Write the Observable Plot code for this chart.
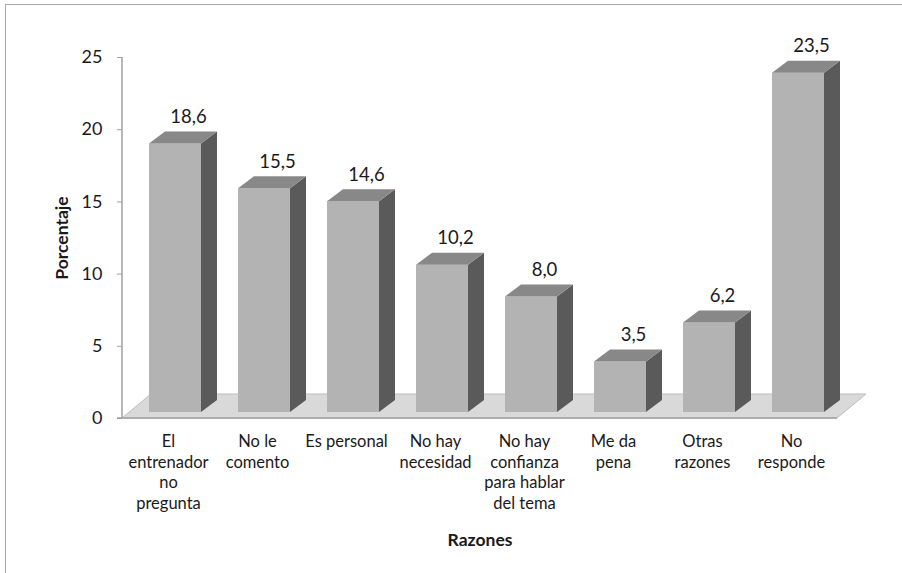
<!DOCTYPE html>
<html><head><meta charset="utf-8">
<script src="https://cdn.jsdelivr.net/npm/d3@7"></script>
<script src="https://cdn.jsdelivr.net/npm/@observablehq/plot@0.6"></script>
<style>
body{margin:0;background:#fff;}
#wrap{position:relative;width:902px;height:573px;overflow:hidden;background:#fff;}
#chart{position:absolute;left:0;top:0;}
#border{position:absolute;left:5px;top:4px;width:1000px;height:1000px;border:1.5px solid #a8a8a8;pointer-events:none;}
</style></head><body>
<div id="wrap"><div id="chart"></div><div id="border"></div></div>
<script>
// Data
const razones = ["El entrenador no pregunta","No le comento","Es personal","No hay necesidad","No hay confianza para hablar del tema","Me da pena","Otras razones","No responde"];
const etiquetas = ["El\nentrenador\nno\npregunta","No le\ncomento","Es personal","No hay\nnecesidad","No hay\nconfianza\npara hablar\ndel tema","Me da\npena","Otras\nrazones","No\nresponde"];
const porcentajes = [18.6, 15.5, 14.6, 10.2, 8.0, 3.5, 6.2, 23.5];
const yTicks = [0, 5, 10, 15, 20, 25];
const yLabel = "Porcentaje";
const xLabel = "Razones";

const data = razones.map((r, i) => ({razon: r, etiqueta: etiquetas[i], valor: porcentajes[i]}));
const fmt = v => d3.format(".1f")(v).replace(".", ",");

// 3D geometry (pixels)
const FLOOR_DX = 29, FLOOR_DY = -24;   // floor depth
const BAR_DX = 7, BAR_DY = -6;         // front face offset into the depth
const SIDE_DX = 16, SIDE_DY = -12;     // bar depth

function floorMark(index, scales, values, dims) {
  const g = d3.create("svg:g");
  const x0 = dims.marginLeft, x1 = dims.width - dims.marginRight;
  const y0 = scales.y(0);
  g.append("polygon")
    .attr("points", [[x0, y0], [x1, y0], [x1 + FLOOR_DX, y0 + FLOOR_DY], [x0 + FLOOR_DX, y0 + FLOOR_DY]].map(p => p.join(",")).join(" "))
    .attr("fill", "#d9d9d9").attr("stroke", "#bdbdbd").attr("stroke-width", 1);
  g.append("line").attr("x1", x0 - 5).attr("x2", x1).attr("y1", y0).attr("y2", y0)
    .attr("stroke", "#a0a0a0").attr("stroke-width", 1.5);
  g.append("line").attr("x1", x0).attr("x2", x0).attr("y1", scales.y(25)).attr("y2", y0)
    .attr("stroke", "#a0a0a0").attr("stroke-width", 1.5);
  return g.node();
}

function barSides(index, scales, values, dims) {
  const g = d3.create("svg:g");
  const bw = scales.x.bandwidth();
  for (const d of data) {
    const xl = scales.x(d.razon) + BAR_DX, xr = xl + bw;
    const yt = scales.y(d.valor) + BAR_DY, yb = scales.y(0) + BAR_DY;
    const pts = a => a.map(p => p.join(",")).join(" ");
    g.append("polygon").attr("points", pts([[xr, yt], [xr + SIDE_DX, yt + SIDE_DY], [xr + SIDE_DX, yb + SIDE_DY], [xr, yb]]))
      .attr("fill", "#5a5a5a");
    g.append("polygon").attr("points", pts([[xl, yt], [xr, yt], [xr + SIDE_DX, yt + SIDE_DY], [xl + SIDE_DX, yt + SIDE_DY]]))
      .attr("fill", "#888888");
  }
  return g.node();
}

const chart = Plot.plot({
  width: 902,
  height: 573,
  marginLeft: 122,
  marginRight: 65,
  marginTop: 57,
  marginBottom: 155,
  style: {fontFamily: "Lato, sans-serif", background: "transparent", color: "#1a1a1a"},
  x: {domain: razones, paddingInner: 0.42, paddingOuter: 0.21, axis: null},
  y: {domain: [0, 25], axis: null},
  marks: [
    floorMark,
    Plot.barY(data, {x: "razon", y: "valor", fill: "#b3b3b3", dx: BAR_DX, dy: BAR_DY}),
    barSides,
    Plot.axisY({ticks: yTicks, tickSize: 5, tickPadding: 15, fontSize: 18, stroke: "#a0a0a0", label: null}),
    Plot.text(data, {x: "razon", y: "valor", text: d => fmt(d.valor), dx: 20, dy: -27, lineAnchor: "bottom", fontSize: 18.5, fill: "#1a1a1a"}),
    Plot.text(data, {x: "razon", y: () => 0, text: "etiqueta", lineAnchor: "top", dy: 14, lineHeight: 1.25, fontSize: 16.5, fill: "#1a1a1a"}),
    Plot.text([yLabel], {frameAnchor: "left", dx: -60, rotate: -90, textAnchor: "middle", text: d => d, fontSize: 17.5, fontWeight: "bold", fill: "#1a1a1a"}),
    Plot.text([xLabel], {frameAnchor: "bottom", dy: 127, text: d => d, fontSize: 17.5, fontWeight: "bold", fill: "#1a1a1a"})
  ]
});
document.getElementById("chart").appendChild(chart);
</script>
</body></html>
